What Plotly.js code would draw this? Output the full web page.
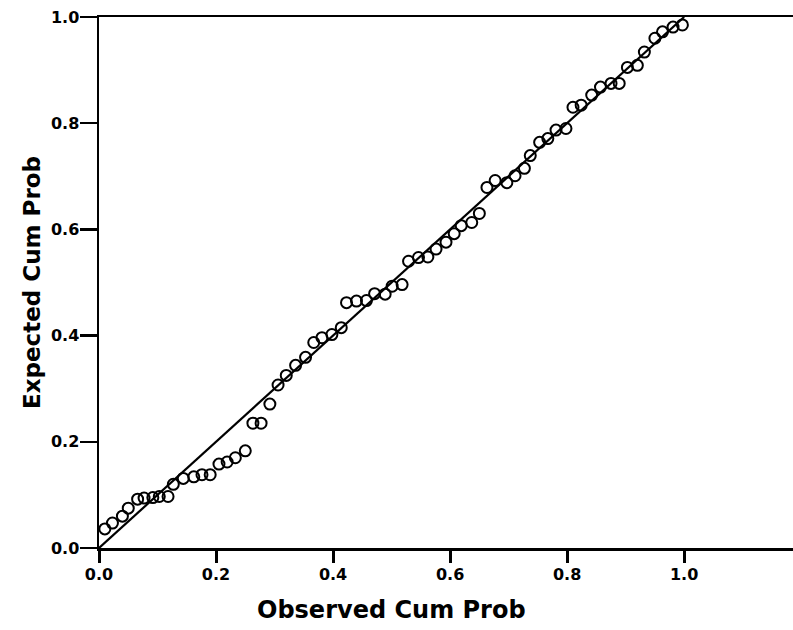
<!DOCTYPE html>
<html>
<head>
<meta charset="utf-8">
<script src="https://cdn.plot.ly/plotly-3.0.1.min.js"></script>
<style>html,body{margin:0;padding:0;background:#fff;}#chart{width:793px;height:630px;}</style>
</head>
<body>
<div id="chart"></div>
<script>
const observedCumProb = [0.010,0.023,0.040,0.050,0.066,0.077,0.092,0.103,0.118,0.127,0.144,0.162,0.176,0.190,0.205,0.219,0.233,0.250,0.263,0.277,0.292,0.306,0.320,0.336,0.353,0.367,0.381,0.398,0.414,0.423,0.440,0.457,0.471,0.489,0.501,0.518,0.529,0.546,0.562,0.576,0.593,0.607,0.619,0.637,0.650,0.663,0.677,0.697,0.711,0.727,0.737,0.753,0.767,0.781,0.798,0.810,0.824,0.842,0.857,0.875,0.889,0.903,0.920,0.932,0.950,0.963,0.981,0.997];
const expectedCumProb = [0.036,0.047,0.060,0.075,0.092,0.094,0.095,0.097,0.097,0.120,0.131,0.134,0.138,0.138,0.158,0.162,0.170,0.183,0.235,0.235,0.271,0.307,0.325,0.344,0.359,0.387,0.396,0.402,0.415,0.462,0.465,0.466,0.479,0.478,0.493,0.496,0.540,0.547,0.548,0.563,0.576,0.592,0.607,0.613,0.630,0.679,0.692,0.688,0.701,0.715,0.739,0.764,0.771,0.787,0.790,0.830,0.834,0.853,0.868,0.875,0.875,0.905,0.909,0.934,0.960,0.972,0.981,0.985];
const refLineX = [0, 1];
const refLineY = [0, 1];
const tickVals = [0, 0.2, 0.4, 0.6, 0.8, 1.0];
const tickLabels = ['0.0', '0.2', '0.4', '0.6', '0.8', '1.0'];
const xTitle = 'Observed Cum Prob';
const yTitle = 'Expected Cum Prob';

const traces = [
  {x: refLineX, y: refLineY, type: 'scatter', mode: 'lines',
   line: {color: '#000', width: 2.2}, hoverinfo: 'skip', cliponaxis: false},
  {x: observedCumProb, y: expectedCumProb, type: 'scatter', mode: 'markers',
   marker: {symbol: 'circle-open', size: 11, color: '#000', line: {color: '#000', width: 2}},
   cliponaxis: false}
];

const layout = {
  width: 793, height: 630,
  margin: {l: 99, r: 0, t: 17, b: 82},
  paper_bgcolor: '#fff', plot_bgcolor: '#fff',
  showlegend: false,
  font: {family: 'DejaVu Sans, sans-serif', color: '#000'},
  xaxis: {
    range: [0, 1.186], tickvals: tickVals, ticktext: tickLabels,
    showgrid: false, zeroline: false,
    showline: true, linecolor: '#000', linewidth: 2.5, mirror: true,
    ticks: 'outside', ticklen: 12, tickwidth: 3, tickcolor: '#000',
    ticklabelstandoff: -2,
    tickfont: {size: 16, family: 'DejaVu Sans, sans-serif', color: '#000', weight: 'bold'}
  },
  yaxis: {
    range: [0, 1], tickvals: tickVals, ticktext: tickLabels,
    showgrid: false, zeroline: false,
    showline: true, linecolor: '#000', linewidth: 2.5,
    ticks: 'outside', ticklen: 17, tickwidth: 2.5, tickcolor: '#000',
    ticklabelstandoff: -3,
    tickfont: {size: 16, family: 'DejaVu Sans, sans-serif', color: '#000', weight: 'bold'},
    title: {text: '<b>' + yTitle + '</b>', font: {size: 23, family: 'DejaVu Sans, sans-serif', color: '#000'}, standoff: 4}
  },
  annotations: [
    {text: '<b>' + xTitle + '</b>', xref: 'paper', yref: 'paper', x: 0.421, y: -0.117,
     xanchor: 'center', yanchor: 'middle', showarrow: false,
     font: {size: 24, family: 'DejaVu Sans, sans-serif', color: '#000'}}
  ]
};

Plotly.newPlot('chart', traces, layout, {displayModeBar: false, staticPlot: true});
</script>
</body>
</html>
